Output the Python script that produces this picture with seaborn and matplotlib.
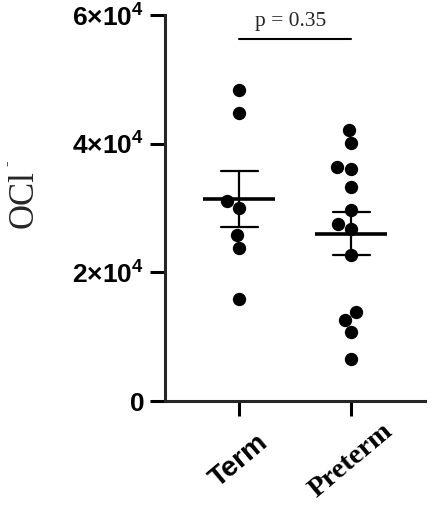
import matplotlib
matplotlib.use("Agg")
import matplotlib.pyplot as plt
import seaborn as sns
import pandas as pd

# values
groups = ["Term", "Preterm"]
term_vals = [48300, 44800, 31100, 30000, 25800, 23750, 15800]
preterm_vals = [42200, 40150, 36000, 36450, 33200, 29750, 27550, 26800,
                22700, 13850, 12550, 10700, 6550]
yticks = [0, 20000, 40000, 60000]
ytick_labels = ["0", r"$\mathbf{2{\times}10^{4}}$", r"$\mathbf{4{\times}10^{4}}$",
                r"$\mathbf{6{\times}10^{4}}$"]
p_text = "p = 0.35"

df = pd.DataFrame({
    "group": ["Term"] * len(term_vals) + ["Preterm"] * len(preterm_vals),
    "value": term_vals + preterm_vals,
})

sns.set_style("ticks")
plt.rcParams["font.family"] = ["Liberation Sans", "DejaVu Sans"]
plt.rcParams["mathtext.fontset"] = "custom"
plt.rcParams["mathtext.bf"] = "Liberation Sans:bold"
plt.rcParams["mathtext.rm"] = "Liberation Sans:bold"
serif = ["Liberation Serif", "DejaVu Serif"]

fig = plt.figure(figsize=(4.32, 5.14), dpi=100)
ax = fig.add_axes([0.382, 0.2198, 0.602, 0.751])

sns.swarmplot(data=df, x="group", y="value", order=groups, color="black",
              size=9.6, ax=ax, zorder=2)
sns.pointplot(data=df, x="group", y="value", order=groups, color="black",
              errorbar="se", capsize=0.33, markers="_", markersize=52,
              markeredgewidth=2.6, linestyle="none",
              err_kws={"linewidth": 1.6}, ax=ax, zorder=3)

ax.set_xlim(-0.66, 1.66)
ax.set_ylim(0, 60000)
ax.set_yticks(yticks)
ax.set_yticklabels(ytick_labels, fontsize=19, fontweight="bold")
ax.set_xticks(range(len(groups)))
ax.set_xticklabels(groups, fontsize=20.5, fontweight="bold", rotation=40,
                   ha="center", va="center")
ax.get_xticklabels()[1].set_family(serif)

# y label "OCl" with a small superscript dash
ax.set_xlabel("")
ax.set_ylabel("OCl", fontsize=25, family=serif)
ax.yaxis.set_label_coords(-0.477, 0.523)
ax.text(-0.604, 0.615, "-", transform=ax.transAxes, rotation=90, fontsize=12,
        family=serif, ha="center", va="center")

sns.despine(ax=ax)
for side in ["left", "bottom"]:
    ax.spines[side].set_linewidth(2.2)
ax.tick_params(axis="both", length=11, width=2.2, colors="black", pad=4)
ax.tick_params(axis="x", pad=32)

# significance annotation
ax.plot([0, 1], [56300, 56300], color="black", lw=1.5, clip_on=False)
ax.text(0.46, 58300, p_text, ha="center", va="baseline", fontsize=15.5,
        family=serif)

fig.savefig("out.png", dpi=100)
